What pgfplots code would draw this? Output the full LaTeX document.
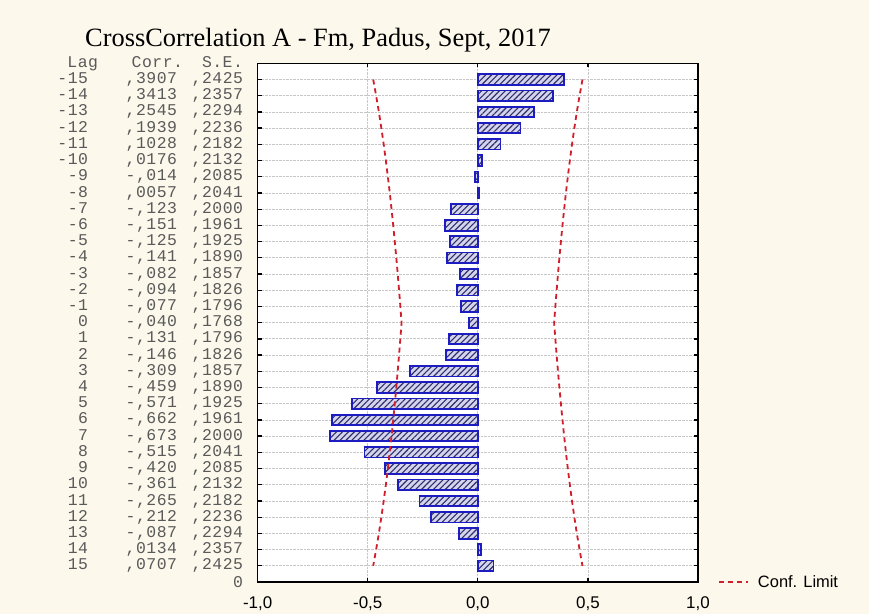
\documentclass[border=0pt]{standalone}
\usepackage{fontspec}
\setmainfont{Liberation Serif}
\newfontfamily\sansf{Liberation Sans}
\newfontfamily\monof[LetterSpace=3]{Liberation Mono}
\usepackage{pgfplots}
\pgfplotsset{compat=1.18}
\usepackage{pgfplotstable}
\usetikzlibrary{patterns.meta}

\definecolor{bgcream}{HTML}{FCF8EC}
\definecolor{barblue}{HTML}{1C1CC0}
\definecolor{barfill}{HTML}{D4D4EC}
\definecolor{hatch}{HTML}{2E2E6A}
\definecolor{conf}{HTML}{D01E2A}
\definecolor{lblgray}{HTML}{5A5A5A}

% lag, correlation, standard error, 1.96*SE limits
\pgfplotstableread{
lag corr se lo hi
-15 0.3907 0.2425 -0.4753 0.4753
-14 0.3413 0.2357 -0.4620 0.4620
-13 0.2545 0.2294 -0.4496 0.4496
-12 0.1939 0.2236 -0.4383 0.4383
-11 0.1028 0.2182 -0.4277 0.4277
-10 0.0176 0.2132 -0.4179 0.4179
-9 -0.014 0.2085 -0.4087 0.4087
-8 0.0057 0.2041 -0.4000 0.4000
-7 -0.123 0.2000 -0.3920 0.3920
-6 -0.151 0.1961 -0.3844 0.3844
-5 -0.125 0.1925 -0.3773 0.3773
-4 -0.141 0.1890 -0.3704 0.3704
-3 -0.082 0.1857 -0.3640 0.3640
-2 -0.094 0.1826 -0.3579 0.3579
-1 -0.077 0.1796 -0.3520 0.3520
0 -0.040 0.1768 -0.3465 0.3465
1 -0.131 0.1796 -0.3520 0.3520
2 -0.146 0.1826 -0.3579 0.3579
3 -0.309 0.1857 -0.3640 0.3640
4 -0.459 0.1890 -0.3704 0.3704
5 -0.571 0.1925 -0.3773 0.3773
6 -0.662 0.1961 -0.3844 0.3844
7 -0.673 0.2000 -0.3920 0.3920
8 -0.515 0.2041 -0.4000 0.4000
9 -0.420 0.2085 -0.4087 0.4087
10 -0.361 0.2132 -0.4179 0.4179
11 -0.265 0.2182 -0.4277 0.4277
12 -0.212 0.2236 -0.4383 0.4383
13 -0.087 0.2294 -0.4496 0.4496
14 0.0134 0.2357 -0.4620 0.4620
15 0.0707 0.2425 -0.4753 0.4753
}\ccdata

\newcommand\lb[3]{\makebox[30bp][r]{#1}\makebox[89bp][r]{#2}\makebox[66bp][r]{#3}}
\newcommand\hd{\makebox[40bp][r]{Lag}\makebox[85bp][r]{Corr.}\makebox[60bp][r]{S.E.}}

\begin{document}
\begin{tikzpicture}
\path[use as bounding box, fill=bgcream] (-257.7bp,-32bp) rectangle (611.3bp,582bp);
\begin{axis}[
    scale only axis,
    width=440.3bp, height=518.7bp,
    xmin=-1, xmax=1, ymin=-16, ymax=16,
    y dir=reverse,
    axis background/.style={fill=white},
    axis line style={black, line width=1.5bp},
    tick style={black, line width=1.3bp},
    major tick length=4bp,
    xtick={-1,-0.5,0,0.5,1},
    ytick={-16,...,16},
    yticklabels={\hd,
      \lb{-15}{,3907}{,2425}, \lb{-14}{,3413}{,2357}, \lb{-13}{,2545}{,2294},
      \lb{-12}{,1939}{,2236}, \lb{-11}{,1028}{,2182}, \lb{-10}{,0176}{,2132},
      \lb{-9}{-,014}{,2085}, \lb{-8}{,0057}{,2041}, \lb{-7}{-,123}{,2000},
      \lb{-6}{-,151}{,1961}, \lb{-5}{-,125}{,1925}, \lb{-4}{-,141}{,1890},
      \lb{-3}{-,082}{,1857}, \lb{-2}{-,094}{,1826}, \lb{-1}{-,077}{,1796},
      \lb{0}{-,040}{,1768}, \lb{1}{-,131}{,1796}, \lb{2}{-,146}{,1826},
      \lb{3}{-,309}{,1857}, \lb{4}{-,459}{,1890}, \lb{5}{-,571}{,1925},
      \lb{6}{-,662}{,1961}, \lb{7}{-,673}{,2000}, \lb{8}{-,515}{,2041},
      \lb{9}{-,420}{,2085}, \lb{10}{-,361}{,2132}, \lb{11}{-,265}{,2182},
      \lb{12}{-,212}{,2236}, \lb{13}{-,087}{,2294}, \lb{14}{,0134}{,2357},
      \lb{15}{,0707}{,2425}, \makebox[185bp][r]{0}},
    yticklabel style={font=\monof\fontsize{16.5}{16.5}\selectfont, text=lblgray,
      anchor=east, inner sep=0pt, xshift=-14.5bp},
    xticklabel style={font=\sansf\fontsize{17}{17}\selectfont, inner sep=0pt, yshift=-14.5bp,
      /pgf/number format/.cd, use comma, fixed, fixed zerofill, precision=1,
      assume math mode=true},
    grid=major,
    major grid style={densely dotted, black!22, line width=0.8bp},
    legend style={draw=none, fill=none, at={(1,0)}, anchor=west, xshift=20bp,
      font=\sansf\fontsize{16.5}{16.5}\selectfont, inner sep=0pt, column sep=7bp},
    legend image code/.code={\draw[#1] (0bp,0bp) -- (29bp,0bp);},
]
\addplot[xbar, forget plot, bar width=10.5bp, draw=barblue, line width=1.8bp,
    preaction={fill=barfill},
    pattern={Lines[angle=45, distance=4.2bp, line width=1.1bp]}, pattern color=hatch]
    table[x=corr, y=lag] {\ccdata};
\addplot[forget plot, conf, line width=1.8bp, dash pattern=on 5bp off 4bp, no markers]
    table[x=lo, y=lag] {\ccdata};
\addplot[conf, line width=1.8bp, dash pattern=on 5bp off 4bp, no markers]
    table[x=hi, y=lag] {\ccdata};
\addlegendentry{Conf. Limit}
\end{axis}
\node[anchor=base west, font=\fontsize{26.5}{26.5}\selectfont, inner sep=0pt]
    at (-172.7bp,535bp) {CrossCorrelation A - Fm, Padus, Sept, 2017};
\end{tikzpicture}
\end{document}
